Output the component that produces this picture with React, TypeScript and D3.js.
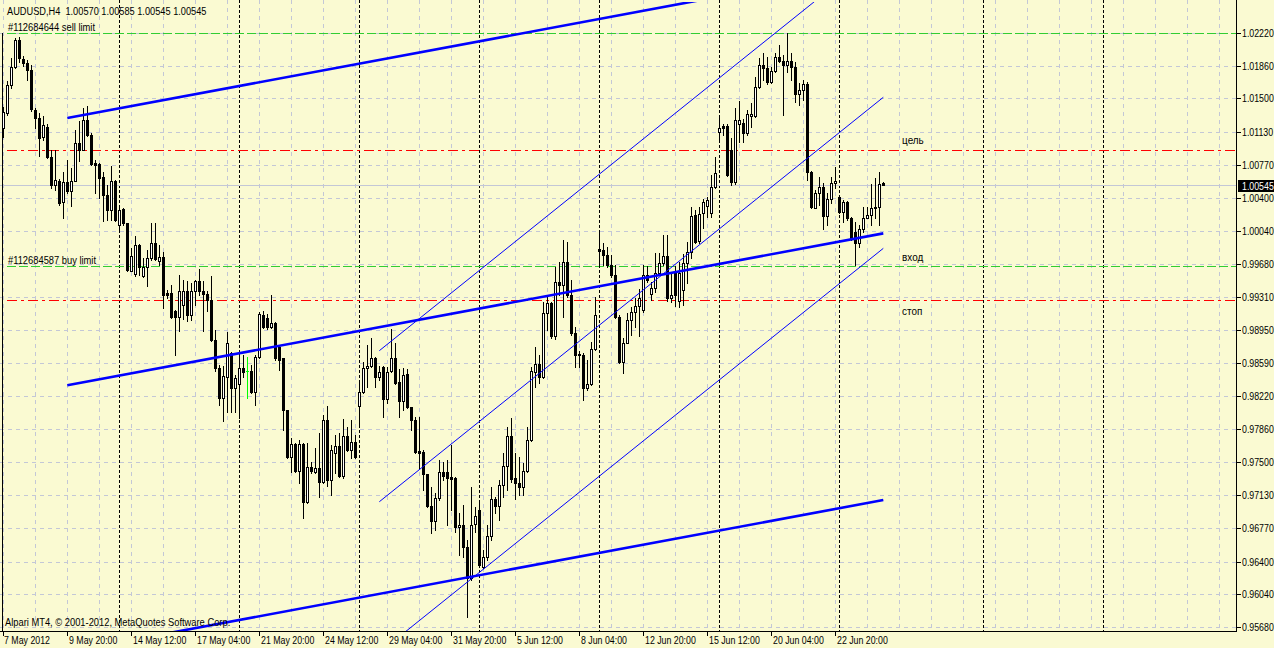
import React from "react";
import * as d3 from "d3";

const WIDTH = 1274;
const HEIGHT = 648;

const symbolTitle = "AUDUSD,H4  1.00570 1.00585 1.00545 1.00545";
const copyright = "Alpari MT4, © 2001-2012, MetaQuotes Software Corp.";

// H4 bars, oldest first (7 May 2012 04:00 .. 22 Jun 2012 20:00 + current bar)
const opens = [
  1.01174, 1.01339, 1.01647, 1.01845, 1.02143, 1.01933, 1.01889, 1.01812, 1.01372, 1.01284,
  1.01075, 1.01185, 1.00854, 1.00546, 1.0059, 1.00359, 1.00579, 1.0048, 1.0059, 1.01009,
  1.00932, 1.01262, 1.01097, 1.00788, 1.00777, 1.00634, 1.00436, 1.00271, 1.0059, 1.00106,
  1.00282, 1.00128, 0.99599, 0.99566, 0.99886, 0.99544, 0.99643, 0.99742, 0.99908, 0.99709,
  0.99753, 0.99357, 0.99357, 0.99159, 0.99093, 0.99225, 0.99379, 0.99115, 0.99379, 0.99489,
  0.99379, 0.99346, 0.9928, 0.9884, 0.98531, 0.98201, 0.98432, 0.98696, 0.98311, 0.98355,
  0.98531, 0.98498, 0.98498, 0.98267, 0.98652, 0.99115, 0.99082, 0.98983, 0.99027, 0.98762,
  0.98641, 0.98069, 0.97551, 0.97695, 0.97397, 0.97695, 0.97056, 0.97441, 0.97386, 0.9743,
  0.97276, 0.97959, 0.97298, 0.97596, 0.97673, 0.97342, 0.97783, 0.97629, 0.97717, 0.98113,
  0.98267, 0.98531, 0.98553, 0.98641, 0.98432, 0.98542, 0.9819, 0.98498, 0.98641, 0.98377,
  0.98168, 0.98465, 0.98102, 0.97959, 0.97618, 0.97607, 0.97364, 0.97012, 0.96847, 0.971,
  0.97386, 0.97386, 0.97331, 0.9732, 0.96781, 0.96803, 0.96561, 0.96219, 0.96814, 0.96968,
  0.9634, 0.9645, 0.96682, 0.97089, 0.97012, 0.97243, 0.97452, 0.97783, 0.9732, 0.97265,
  0.97221, 0.97397, 0.97739, 0.98487, 0.98575, 0.98432, 0.99137, 0.99247, 0.98884, 0.99478,
  0.99445, 0.99698, 0.99335, 0.98917, 0.98685, 0.98674, 0.98311, 0.98355, 0.98741, 0.99841,
  0.9983, 0.99775, 0.99665, 0.99555, 0.99093, 0.98597, 0.98807, 0.9906, 0.99148, 0.99214,
  0.9917, 0.99555, 0.99346, 0.99412, 0.99577, 0.99687, 0.99764, 0.99302, 0.99577, 0.99269,
  0.9939, 0.99687, 0.99809, 1.00216, 0.9993, 1.00238, 1.00315, 1.00238, 1.00524, 1.0113,
  1.01196, 1.01196, 1.00932, 1.00579, 1.01218, 1.01229, 1.01119, 1.01306, 1.01306, 1.01625,
  1.01867, 1.01834, 1.0168, 1.01801, 1.01955, 1.01911, 1.01867, 1.01911, 1.01845, 1.01548,
  1.01592, 1.01658, 1.00689, 1.00293, 1.00458, 1.00524, 1.00205, 1.00392, 1.00568, 1.00414,
  1.00249, 1.00359, 1.00183, 1.00029, 0.99908, 1.00062, 1.00183, 1.00216, 1.00293, 1.00304,
  1.0057,
];

const highs = [
  1.01405, 1.01691, 1.01944, 1.02165, 1.02176, 1.01966, 1.01922, 1.01867, 1.01394, 1.01339,
  1.01306, 1.01218, 1.00932, 1.00932, 1.00612, 1.00689, 1.00821, 1.00733, 1.01152, 1.01251,
  1.01394, 1.01416, 1.01119, 1.00821, 1.00788, 1.00689, 1.00546, 1.00755, 1.00601, 1.00315,
  1.00293, 1.00128, 0.99852, 0.99985, 0.99897, 0.99742, 0.9983, 1.00128, 1.00128, 0.99886,
  0.99809, 0.9939, 0.99445, 0.9917, 0.99555, 0.995, 0.99489, 0.99467, 0.995, 0.99621,
  0.99489, 0.99379, 0.99544, 0.9895, 0.98564, 0.98553, 0.98928, 0.98707, 0.98454, 0.98696,
  0.98674, 0.98652, 0.98564, 0.98674, 0.99148, 0.99159, 0.99126, 0.99335, 0.99038, 0.98784,
  0.98641, 0.98069, 0.97761, 0.97706, 0.97739, 0.97706, 0.97706, 0.97496, 0.9765, 0.97816,
  0.98014, 0.98113, 0.97684, 0.97794, 0.97816, 0.9797, 0.97882, 0.97959, 0.97794, 0.98377,
  0.98597, 0.98784, 0.98862, 0.98652, 0.98553, 0.98553, 0.98542, 0.98961, 0.98807, 0.9852,
  0.98531, 0.9852, 0.98102, 0.97992, 0.97992, 0.97629, 0.97364, 0.97221, 0.97155, 0.97518,
  0.97496, 0.97518, 0.97684, 0.97331, 0.96935, 0.97023, 0.96638, 0.97221, 0.97001, 0.97078,
  0.96527, 0.96803, 0.97221, 0.97111, 0.97298, 0.97596, 0.97882, 0.97981, 0.97596, 0.97551,
  0.97485, 0.97882, 0.98542, 0.98762, 0.98674, 0.99258, 0.99335, 0.99258, 0.99643, 0.99698,
  0.99941, 0.99919, 0.995, 0.98983, 0.98718, 0.98696, 0.98619, 0.98818, 0.99313, 1.00051,
  0.99908, 0.99863, 0.99775, 0.99665, 0.99115, 0.98862, 0.99137, 0.99203, 0.99302, 0.99401,
  0.99665, 0.99654, 0.99478, 0.99797, 0.99797, 0.99996, 0.99996, 0.99588, 0.99654, 0.99698,
  0.99786, 0.99919, 1.00304, 1.00271, 1.00304, 1.00392, 1.00414, 1.00656, 1.00854, 1.01317,
  1.01218, 1.01218, 1.01064, 1.01394, 1.01471, 1.01273, 1.01372, 1.01449, 1.01735, 1.01944,
  1.01999, 1.01955, 1.01845, 1.01999, 1.02087, 1.01977, 1.0222, 1.01999, 1.019, 1.01669,
  1.01702, 1.0168, 1.007, 1.00491, 1.00634, 1.00568, 1.00458, 1.00634, 1.00744, 1.00436,
  1.00381, 1.0037, 1.00194, 1.00139, 1.00106, 1.00304, 1.00304, 1.00557, 1.00623, 1.00689,
  1.00585,
];

const lows = [
  1.01075, 1.01317, 1.01614, 1.01834, 1.019, 1.01856, 1.01702, 1.01361, 1.01174, 1.00865,
  1.01042, 1.00843, 1.00513, 1.00491, 1.00326, 1.00183, 1.00458, 1.00315, 1.0059, 1.0081,
  1.00932, 1.01086, 1.00766, 1.00458, 1.00403, 1.0015, 1.00161, 1.00161, 1.0015, 1.00051,
  1.00106, 0.99599, 0.99599, 0.99544, 0.99555, 0.99533, 0.99434, 0.9972, 0.9972, 0.99665,
  0.99192, 0.99302, 0.99082, 0.98674, 0.98939, 0.99071, 0.99049, 0.9906, 0.99225, 0.99335,
  0.98939, 0.99159, 0.98829, 0.98498, 0.98124, 0.97948, 0.98047, 0.98047, 0.98047, 0.97981,
  0.98432, 0.98201, 0.98256, 0.98124, 0.98641, 0.98972, 0.98961, 0.98972, 0.98619, 0.98509,
  0.97849, 0.9754, 0.97386, 0.97386, 0.97265, 0.9688, 0.97045, 0.97375, 0.97375, 0.97111,
  0.97265, 0.97232, 0.97133, 0.97375, 0.97331, 0.9732, 0.97618, 0.9754, 0.9754, 0.97915,
  0.98256, 0.98322, 0.98542, 0.98322, 0.98399, 0.97992, 0.98146, 0.98487, 0.98355, 0.97992,
  0.98069, 0.98091, 0.97849, 0.97596, 0.9743, 0.97188, 0.97001, 0.96715, 0.96748, 0.97078,
  0.97298, 0.96803, 0.96968, 0.96726, 0.96472, 0.9645, 0.9579, 0.96197, 0.96726, 0.9634,
  0.96329, 0.96417, 0.96638, 0.96935, 0.96858, 0.97111, 0.97188, 0.97276, 0.97089, 0.97133,
  0.97133, 0.97386, 0.97728, 0.98322, 0.98366, 0.98421, 0.9895, 0.98862, 0.98851, 0.99335,
  0.99093, 0.99313, 0.98895, 0.98542, 0.98542, 0.98179, 0.98289, 0.98344, 0.9873, 0.99643,
  0.99665, 0.99643, 0.99533, 0.99082, 0.98586, 0.98476, 0.98807, 0.98895, 0.98983, 0.98884,
  0.99148, 0.99478, 0.9928, 0.99368, 0.99555, 0.99665, 0.99269, 0.99258, 0.99214, 0.99203,
  0.99225, 0.99467, 0.99742, 0.99908, 0.99908, 1.00073, 1.00194, 1.00194, 1.00513, 1.01042,
  1.01097, 1.00645, 1.00546, 1.00557, 1.0102, 1.0102, 1.01097, 1.01185, 1.01295, 1.01614,
  1.01702, 1.01658, 1.01669, 1.0179, 1.019, 1.01317, 1.0179, 1.01702, 1.0146, 1.01427,
  1.01482, 1.00601, 1.00293, 1.00293, 1.00326, 1.00062, 1.00106, 1.00348, 1.00513, 1.00238,
  1.00139, 1.00161, 0.99941, 0.99665, 0.99863, 1.00029, 1.00183, 1.00106, 1.00183, 1.00106,
  1.00545,
];

const closes = [
  1.0135, 1.01647, 1.01845, 1.02143, 1.01944, 1.01889, 1.01812, 1.01383, 1.01284, 1.01064,
  1.01207, 1.00854, 1.00546, 1.00601, 1.00348, 1.00579, 1.0048, 1.0059, 1.01009, 1.00932,
  1.01262, 1.01097, 1.00777, 1.00766, 1.00623, 1.00436, 1.00271, 1.0059, 1.00161, 1.00271,
  1.00128, 0.9961, 0.99764, 0.99886, 0.99643, 0.99643, 0.99742, 0.99908, 0.99731, 0.99753,
  0.99335, 0.99335, 0.99093, 0.99093, 0.99379, 0.99379, 0.99115, 0.99379, 0.99489, 0.99379,
  0.99346, 0.9928, 0.9884, 0.98531, 0.98201, 0.98443, 0.98807, 0.98311, 0.98421, 0.98531,
  0.98487, 0.98498, 0.98267, 0.98652, 0.99126, 0.98983, 0.98983, 0.99027, 0.98641, 0.98619,
  0.98069, 0.97551, 0.97695, 0.97397, 0.97695, 0.97056, 0.97441, 0.97397, 0.9743, 0.97276,
  0.97959, 0.97298, 0.97629, 0.97673, 0.97342, 0.97783, 0.97629, 0.97717, 0.97551, 0.98267,
  0.98531, 0.98553, 0.98641, 0.98432, 0.98487, 0.9819, 0.98487, 0.98641, 0.98366, 0.98168,
  0.98454, 0.98102, 0.97959, 0.97607, 0.97596, 0.97364, 0.97012, 0.96847, 0.971, 0.97386,
  0.97342, 0.9732, 0.97309, 0.96781, 0.96803, 0.96561, 0.96219, 0.96803, 0.96902, 0.96362,
  0.9645, 0.96682, 0.97089, 0.97012, 0.97243, 0.97452, 0.97783, 0.97309, 0.97265, 0.97221,
  0.97397, 0.97739, 0.98498, 0.98575, 0.98432, 0.99137, 0.99247, 0.98884, 0.99478, 0.99445,
  0.99698, 0.99335, 0.98917, 0.98674, 0.98674, 0.98311, 0.98355, 0.98741, 0.99115, 0.9982,
  0.99775, 0.99665, 0.99555, 0.99093, 0.98597, 0.98807, 0.9906, 0.99148, 0.99214, 0.99302,
  0.99555, 0.995, 0.99412, 0.99577, 0.99687, 0.99764, 0.99302, 0.99335, 0.99335, 0.99577,
  0.99687, 0.99809, 1.00205, 0.99919, 1.00227, 1.00359, 1.00381, 1.00524, 1.00678, 1.01174,
  1.01174, 1.00656, 1.00579, 1.01262, 1.01262, 1.01119, 1.01328, 1.01328, 1.01625, 1.01867,
  1.01834, 1.0168, 1.01801, 1.01955, 1.01911, 1.01867, 1.01911, 1.01845, 1.01548, 1.01592,
  1.01658, 1.00689, 1.00304, 1.00458, 1.00524, 1.00205, 1.00392, 1.00568, 1.0059, 1.00249,
  1.00359, 1.00183, 0.99963, 0.99908, 1.00062, 1.00183, 1.00216, 1.00293, 1.00304, 1.00557,
  1.00545,
];

const priceTicks = [
  1.0222, 1.0186, 1.015, 1.0113, 1.0077, 1.004, 1.0004, 0.9968, 0.9931, 0.9895,
  0.9859, 0.9822, 0.9786, 0.975, 0.9713, 0.9677, 0.964, 0.9604, 0.9568,
];

// one time label every 16 bars
const timeLabels = [
  "7 May 2012", "9 May 20:00", "14 May 12:00", "17 May 04:00", "21 May 20:00",
  "24 May 12:00", "29 May 04:00", "31 May 20:00", "5 Jun 12:00", "8 Jun 04:00",
  "12 Jun 20:00", "15 Jun 12:00", "20 Jun 04:00", "22 Jun 20:00",
];
const LABEL_STEP = 16;

// bars that open a new trading week
const weekStartBars = [29, 59, 89, 119, 149, 179, 209, 245, 275];

const bidPrice = 1.00545;

// pending orders
const orderNames = ["#112684644 sell limit", "#112684587 buy limit"];
const orderPrices = [1.0222, 0.9966];

// target / stop levels
const levelPrices = [1.0093, 0.9928];

// text notes: label, bar position, price of the baseline
const noteTexts = ["цель", "вход", "стоп"];
const noteBars = [224.7, 224.7, 224.7];
const notePrices = [1.01, 0.9971, 0.99115];

// equidistant channel (wide): anchor bars and prices of each border
const wideBars = [16, 220];
const wideUpper = [1.01284, 1.02957];
const wideMiddle = [0.98341, 1.00014];
const wideLower = [0.95405, 0.97078];

// equidistant channel (steep)
const steepBars = [94, 220];
const steepUpper = [0.98722, 1.03174];
const steepMiddle = [0.97059, 1.01512];
const steepLower = [0.95397, 0.99849];

const BG = "#FAFAD2";
const GRID = "#C3C7D6";
const FONT = "'Liberation Sans', Arial, sans-serif";

const PLOT_RIGHT = 1236;
const PLOT_BOTTOM = 631;
const PLOT_TOP = 2;

function T({ x, y, children, fill = "#000", sx = 0.82 }: any) {
  return (
    <text
      transform={`translate(${x},${y}) scale(${sx},1)`}
      fill={fill}
      fontFamily={FONT}
      fontSize={11}
      style={{ whiteSpace: "pre" }}
    >
      {children}
    </text>
  );
}

export default function App() {
  const x = d3.scaleLinear().domain([0, 220]).range([3.3, 883.3]);
  const y = d3.scaleLinear().domain([0.9568, 1.0222]).range([627, 33]);
  const px = (v: number) => Math.round(v);

  const bars = d3.range(opens.length).map((i) => ({
    i,
    o: opens[i],
    h: highs[i],
    l: lows[i],
    c: closes[i],
  }));

  const gridXs = d3.range(3, PLOT_RIGHT, 32);

  const channelLine = (bs: number[], ps: number[], w: number, key: string) => {
    const gen = d3
      .line<[number, number]>()
      .x((d) => x(d[0]))
      .y((d) => y(d[1]));
    return (
      <path
        key={key}
        d={gen([
          [bs[0], ps[0]],
          [bs[1], ps[1]],
        ]) as string}
        stroke="#0000FF"
        strokeWidth={w}
        fill="none"
      />
    );
  };

  const yBid = px(y(bidPrice));

  return (
    <div style={{ position: "fixed", left: 0, top: 0, width: WIDTH, height: HEIGHT }}>
      <svg width={WIDTH} height={HEIGHT} style={{ display: "block" }}>
        <defs>
          <clipPath id="plot-area">
            <rect x={0} y={PLOT_TOP} width={PLOT_RIGHT} height={PLOT_BOTTOM - PLOT_TOP} />
          </clipPath>
        </defs>
        <rect x={0} y={0} width={WIDTH} height={HEIGHT} fill={BG} />

        {/* grid */}
        <g stroke={GRID} strokeWidth={1} strokeDasharray="4,4">
          {priceTicks.map((p) => (
            <line key={"gh" + p} x1={0} x2={PLOT_RIGHT} y1={px(y(p)) + 0.5} y2={px(y(p)) + 0.5} />
          ))}
          {gridXs.map((gx) => (
            <line key={"gv" + gx} x1={gx + 0.5} x2={gx + 0.5} y1={0} y2={PLOT_BOTTOM} />
          ))}
        </g>

        {/* week separators */}
        <g stroke="#000" strokeWidth={1} strokeDasharray="3,2">
          {weekStartBars.map((b) => (
            <line key={"ws" + b} x1={px(x(b)) + 0.5} x2={px(x(b)) + 0.5} y1={0} y2={PLOT_BOTTOM} />
          ))}
        </g>

        {/* bid line */}
        <line x1={0} x2={PLOT_RIGHT} y1={yBid + 0.5} y2={yBid + 0.5} stroke={GRID} strokeWidth={1} />

        {/* pending orders */}
        {orderPrices.map((p, k) => (
          <line
            key={"ord" + k}
            x1={7}
            x2={PLOT_RIGHT}
            y1={px(y(p)) + 0.5}
            y2={px(y(p)) + 0.5}
            stroke="#32CD32"
            strokeWidth={1}
            strokeDasharray="9,3"
          />
        ))}
        {levelPrices.map((p, k) => (
          <line
            key={"lvl" + k}
            x1={7}
            x2={PLOT_RIGHT}
            y1={px(y(p)) + 0.5}
            y2={px(y(p)) + 0.5}
            stroke="#FF0000"
            strokeWidth={1}
            strokeDasharray="10,4,3,4"
          />
        ))}

        {/* candles */}
        <g>
          {bars.map((b) => {
            const cx = px(x(b.i));
            const yh = px(y(b.h));
            const yl = px(y(b.l));
            const yo = px(y(b.o));
            const yc = px(y(b.c));
            if (b.o === b.c) {
              return (
                <g key={b.i} stroke="#00FF00">
                  <line x1={cx + 0.5} x2={cx + 0.5} y1={yh} y2={yl + 1} />
                  <line x1={cx - 1} x2={cx + 2} y1={yo + 0.5} y2={yo + 0.5} />
                </g>
              );
            }
            const top = Math.min(yo, yc);
            const bot = Math.max(yo, yc);
            const bull = b.c > b.o;
            return (
              <g key={b.i}>
                <line x1={cx + 0.5} x2={cx + 0.5} y1={yh} y2={yl + 1} stroke="#000" />
                {bull ? (
                  <rect x={cx - 0.5} y={top + 0.5} width={2} height={Math.max(bot - top, 1)} fill="#FFFFFF" stroke="#000" strokeWidth={1} />
                ) : (
                  <rect x={cx - 1} y={top} width={3} height={Math.max(bot - top + 1, 1)} fill="#000" />
                )}
              </g>
            );
          })}
        </g>

        {/* channels */}
        <g clipPath="url(#plot-area)">
          {channelLine(wideBars, wideUpper, 2.6, "wu")}
          {channelLine(wideBars, wideMiddle, 2.6, "wm")}
          {channelLine(wideBars, wideLower, 2.6, "wl")}
          {channelLine(steepBars, steepUpper, 1, "su")}
          {channelLine(steepBars, steepMiddle, 1, "sm")}
          {channelLine(steepBars, steepLower, 1, "sl")}
        </g>

        {/* left border */}
        <line x1={2.5} x2={2.5} y1={33} y2={PLOT_BOTTOM} stroke="#000" strokeWidth={1} />

        {/* texts */}
        <T x={7} y={15} sx={0.84}>{symbolTitle}</T>
        {orderNames.map((n, k) => (
          <T key={"on" + k} x={8} y={px(y(orderPrices[k])) - 2} sx={0.85}>
            {n}
          </T>
        ))}
        {noteTexts.map((n, k) => (
          <T key={"nt" + k} x={x(noteBars[k])} y={y(notePrices[k])} sx={0.9}>
            {n}
          </T>
        ))}
        <T x={5} y={626} sx={0.85}>{copyright}</T>

        {/* axes */}
        <line x1={PLOT_RIGHT + 0.5} x2={PLOT_RIGHT + 0.5} y1={0} y2={PLOT_BOTTOM + 1} stroke="#000" />
        <line x1={0} x2={PLOT_RIGHT + 1} y1={PLOT_BOTTOM + 0.5} y2={PLOT_BOTTOM + 0.5} stroke="#000" />

        {priceTicks.map((p) => {
          const ty = px(y(p));
          return (
            <g key={"pt" + p}>
              <line x1={PLOT_RIGHT} x2={PLOT_RIGHT + 5} y1={ty + 0.5} y2={ty + 0.5} stroke="#000" />
              <T x={PLOT_RIGHT + 6} y={ty + 4} sx={0.8}>{p.toFixed(5)}</T>
            </g>
          );
        })}

        {timeLabels.map((t, k) => {
          const tx = px(x(k * LABEL_STEP));
          return (
            <g key={"tl" + k}>
              <line x1={tx + 0.5} x2={tx + 0.5} y1={PLOT_BOTTOM} y2={PLOT_BOTTOM + 5} stroke="#000" />
              <T x={k === 0 ? tx + 1 : tx + 2} y={644} sx={0.8}>{t}</T>
            </g>
          );
        })}

        {/* bid price tag */}
        <rect x={PLOT_RIGHT + 2} y={yBid - 5} width={WIDTH - PLOT_RIGHT - 2} height={12} fill="#000" />
        <T x={PLOT_RIGHT + 6} y={yBid + 5} fill="#FFFFFF" sx={0.8}>{bidPrice.toFixed(5)}</T>
      </svg>
    </div>
  );
}
